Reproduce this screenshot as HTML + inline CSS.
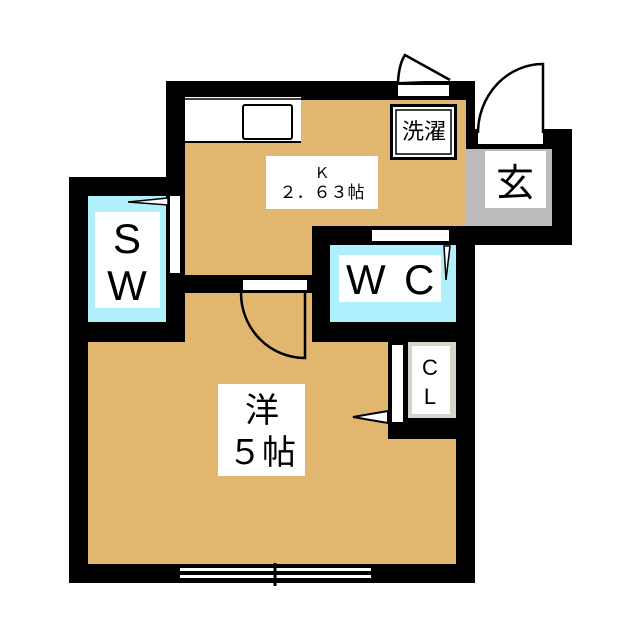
<!DOCTYPE html>
<html><head><meta charset="utf-8"><style>
html,body{margin:0;padding:0;background:#fff;}
svg{display:block;}
text{font-family:"Liberation Sans","Noto Sans CJK JP",sans-serif;fill:#000;}
</style></head><body>
<svg width="640" height="640" viewBox="0 0 640 640" xmlns="http://www.w3.org/2000/svg">
<polygon points="166,81 475,81 475,129 572,129 572,245 475,245 475,583 69,583 69,177 166,177" fill="#000"/>
<polygon points="185,100 466,100 466,226 312,226 312,275 185,275" fill="#e1b66f"/>
<polygon points="88,342 185,342 185,293 312,293 312,342 388,342 388,439 456,439 456,564 88,564" fill="#e1b66f"/>
<rect x="88" y="196" width="78" height="126" fill="#b0f0fc"/>
<rect x="95" y="212" width="65" height="96" fill="#fff"/>
<rect x="170" y="196" width="10" height="77" fill="#fff"/>
<polygon points="128,202 168,198 168,205" fill="#fff" stroke="#000" stroke-width="1.5"/>
<text x="127" y="253" font-size="42" text-anchor="middle">S</text>
<text x="127" y="300" font-size="42" text-anchor="middle">W</text>
<rect x="330" y="245" width="126" height="77" fill="#b0f0fc"/>
<rect x="339" y="255" width="102" height="47" fill="#fff"/>
<rect x="372" y="230" width="77" height="11" fill="#fff"/>
<polygon points="444,246 450,246 446,280" fill="#fff" stroke="#000" stroke-width="1.5"/>
<text x="346" y="294" font-size="42">W</text>
<text x="404" y="294" font-size="42">C</text>
<rect x="466" y="149" width="86" height="77" fill="#bbb"/>
<rect x="485" y="151" width="61" height="57" fill="#fff"/>
<rect x="478" y="133" width="65" height="11" fill="#fff"/>
<path d="M478,133 A65,69 0 0 1 543,64 L543,133" fill="#fff" stroke="#000" stroke-width="2.5"/>
<text x="515" y="196" font-size="38" text-anchor="middle">玄</text>
<rect x="390" y="104" width="67" height="56" fill="#000"/>
<rect x="393" y="107" width="61" height="50" fill="#fff"/>
<rect x="396" y="110" width="55" height="44" fill="#fff" stroke="#000" stroke-width="1.5"/>
<rect x="398" y="85" width="51" height="11" fill="#fff"/>
<path d="M398,82 Q399,64 405,55 L450,80" fill="#fff" stroke="#000" stroke-width="2.5"/>
<text x="424" y="139" font-size="22" text-anchor="middle">洗濯</text>
<rect x="185" y="97" width="116" height="45" fill="#fff"/>
<line x1="185" y1="99" x2="301" y2="99" stroke="#000" stroke-width="1.5"/>
<line x1="185" y1="142" x2="301" y2="142" stroke="#000" stroke-width="2"/>
<rect x="243" y="105" width="49" height="34" rx="2" fill="#fff" stroke="#000" stroke-width="2"/>
<rect x="266" y="156" width="112" height="53" fill="#fff"/>
<text x="322" y="178" font-size="15" text-anchor="middle">Ｋ</text>
<text x="322" y="198" font-size="17" text-anchor="middle">２．６３帖</text>
<rect x="243" y="280" width="64" height="10" fill="#fff"/>
<path d="M241,293 A64,65 0 0 0 305,358 L305,292" fill="none" stroke="#000" stroke-width="2.5"/>
<rect x="408" y="342" width="48" height="76" fill="#d6d3c8"/>
<rect x="412" y="346" width="38" height="68" fill="#fff"/>
<rect x="392" y="345" width="11" height="77" fill="#fff"/>
<polygon points="353,417 388,411 388,423" fill="#fff" stroke="#000" stroke-width="2"/>
<text x="430" y="375" font-size="22" text-anchor="middle">C</text>
<text x="430" y="404" font-size="22" text-anchor="middle">L</text>
<rect x="218" y="384" width="87" height="92" fill="#fff"/>
<text x="262" y="422" font-size="34" text-anchor="middle">洋</text>
<text x="262" y="464" font-size="34" text-anchor="middle">５帖</text>
<rect x="180" y="568" width="191" height="3" fill="#fff"/>
<rect x="180" y="575" width="191" height="3" fill="#fff"/>
<line x1="275" y1="563" x2="275" y2="586" stroke="#000" stroke-width="3"/>
</svg>
</body></html>
